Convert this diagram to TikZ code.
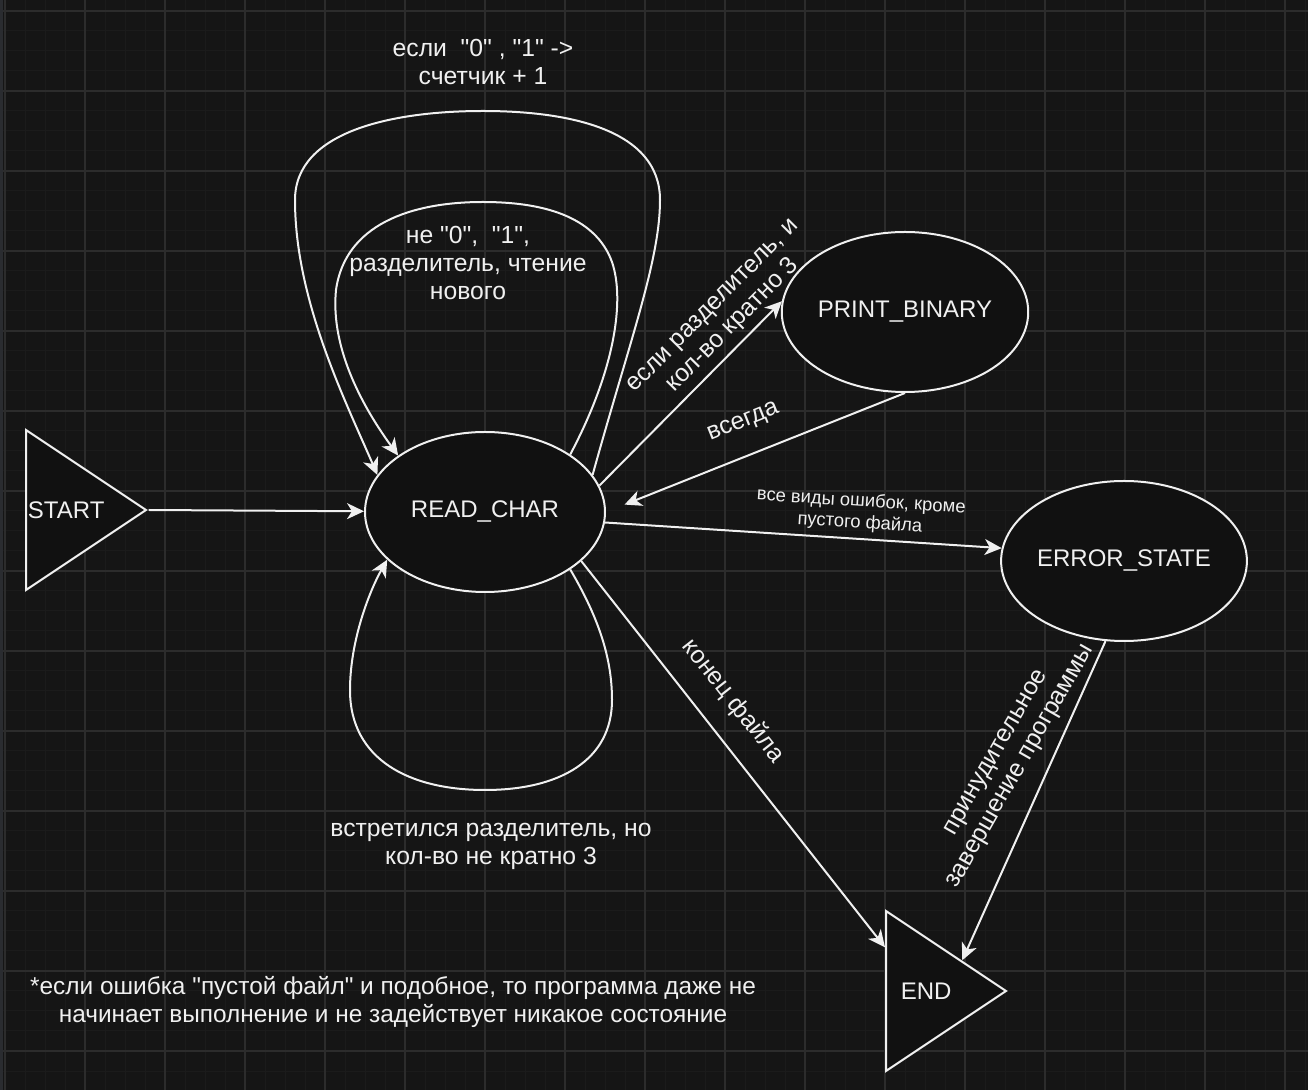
\documentclass[tikz,border=0pt]{standalone}
\usepackage{fontspec}
\setmainfont{Liberation Sans}[Ligatures=TeXOff]
\usetikzlibrary{shapes.geometric,arrows.meta,calc,positioning}

\definecolor{canvas}{HTML}{151515}
\definecolor{gridminor}{HTML}{1B1B1B}
\definecolor{gridmajor}{HTML}{2C2C2C}
\definecolor{sidebar}{HTML}{2A2C30}
\definecolor{ink}{HTML}{F0F0F0}
\definecolor{nodefill}{HTML}{111111}

\tikzset{
  state/.style={ellipse, draw=ink, fill=nodefill, line width=1pt,
    minimum width=120pt, minimum height=80pt, inner sep=0pt,
    text=ink, font=\fontsize{12}{14}\selectfont},
  term/.style={isosceles triangle, isosceles triangle stretches,
    draw=ink, fill=nodefill, line width=1pt, minimum width=80pt,
    minimum height=60pt, inner sep=0pt, anchor=lower side},
  trans/.style={draw=ink, line width=1pt,
    -{Stealth[length=8.5pt,width=8pt,inset=2.5pt]}},
  lbl/.style={text=ink, font=\fontsize{12.35}{14}\selectfont, align=center, inner sep=1pt},
  small/.style={text=ink, font=\fontsize{9.2}{10.8}\selectfont, align=center, inner sep=1pt},
}

\begin{document}
\begin{tikzpicture}[x=0.5pt,y=-0.5pt]
\useasboundingbox (0,0) rectangle (1308,1090);
\fill[canvas] (0,0) rectangle (1308,1090);
\foreach \gx in {5,25,...,1305} \draw[gridminor, line width=0.5pt] (\gx,0) -- (\gx,1090);
\foreach \gy in {11,31,...,1090} \draw[gridminor, line width=0.5pt] (0,\gy) -- (1308,\gy);
\foreach \gx in {5,85,...,1305} \draw[gridmajor, line width=0.6pt] (\gx,0) -- (\gx,1090);
\foreach \gy in {11,91,...,1090} \draw[gridmajor, line width=0.6pt] (0,\gy) -- (1308,\gy);
\fill[sidebar] (0,0) rectangle (3,1090);

\node[term] (start) at (25,510) {};
\node[lbl, font=\fontsize{12}{14}\selectfont] (startlbl) at ($(start.lower side)!1/3!(start.apex)$) {START};
\node[term] (end) at (885,991) {};
\node[lbl, font=\fontsize{12}{14}\selectfont] (endlbl) at ($(end.lower side)!1/3!(end.apex)$) {END};

\node[state] (read) at (485,512) {READ\_CHAR};
\node[state] (print) at (905,312) {PRINT\_BINARY};
\node[state] (error) at (1124,561) {ERROR\_STATE};

\draw[trans] (start.apex) -- (read);

\draw[trans] (read.19) .. controls (630,340) and (660,260) .. (660,200)
  .. controls (660,130) and (570,111) .. (483,111)
  node[lbl, above=11.5pt] {если\ \ "0" , "1" ->\\счетчик + 1}
  .. controls (396,111) and (295,130) .. (295,200)
  .. controls (295,300) and (345,400) .. (read.161);

\draw[trans] (read.34) .. controls (615,370) and (625,300) .. (612,262)
  .. controls (595,215) and (540,202) .. (483,202)
  node[lbl, below=10.5pt, xshift=-7.5pt] {не "0",\ \ "1",\\разделитель, чтение\\нового}
  .. controls (410,202) and (345,225) .. (336,290)
  .. controls (330,350) and (365,410) .. (read.147);

\draw[trans] (read.-34) .. controls (600,620) and (612,660) .. (612,700)
  .. controls (612,760) and (560,790) .. (485,790)
  node[lbl, below=15pt, xshift=3pt] {встретился разделитель, но\\кол-во не кратно 3}
  .. controls (410,790) and (350,760) .. (350,690)
  .. controls (350,640) and (370,590) .. (read.-154);

\draw[trans] (read.13) -- (print.175)
  node[lbl, sloped, above=2pt, pos=.8] {если разделитель, и\\кол-во кратно 3};
\draw[trans, shorten >=10pt] (print.south) -- (read.east)
  node[lbl, sloped, above=10pt, pos=.5] {всегда};
\draw[trans] (read.-5) -- (error.174)
  node[small, sloped, above=2pt, pos=.64] {все виды ошибок, кроме\\пустого файла};
\draw[trans] (read.-27) -- ($(end.left corner)!.233!(end.right corner)$)
  node[lbl, sloped, above=9pt, pos=.415] {конец файла};
\draw[trans] (error.-103) -- ($(end.left corner)!.625!(end.apex)$)
  node[lbl, sloped, rotate=-5.5, above=6.5pt, pos=.43] {принудительное\\завершение программы};

\node[lbl, font=\fontsize{12.2}{14}\selectfont] (note) at (393,1002) {*если ошибка "пустой файл" и подобное, то программа даже не\\начинает выполнение и не задействует никакое состояние};
\end{tikzpicture}
\end{document}
